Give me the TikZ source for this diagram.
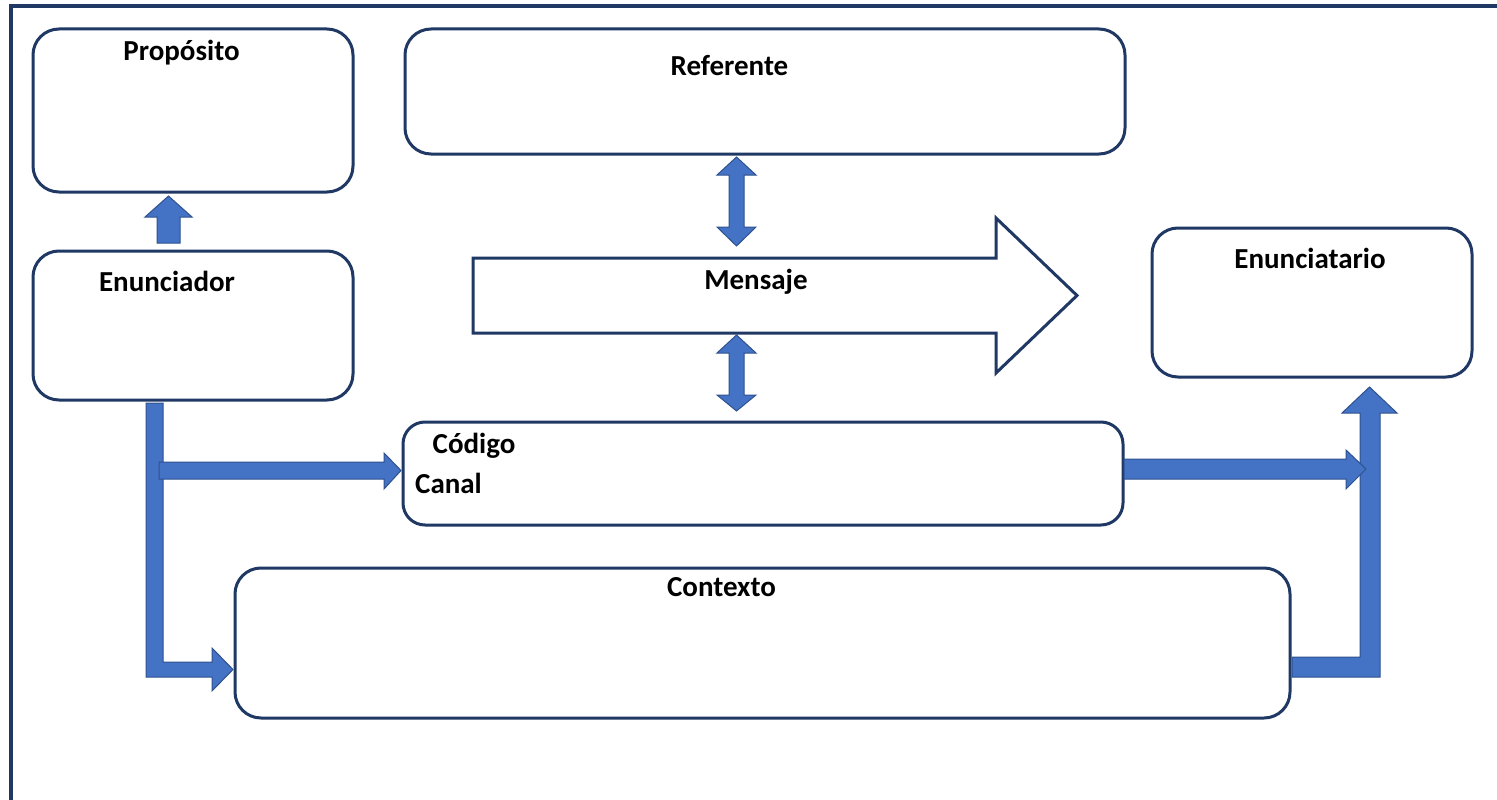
\documentclass[tikz,border=0pt]{standalone}
\usepackage{fontspec}
\setmainfont{Carlito}
\definecolor{navy}{HTML}{1F3864}
\definecolor{ablue}{HTML}{4472C4}
\definecolor{aedge}{HTML}{2F528F}
\begin{document}
\begin{tikzpicture}[x=1pt,y=-1pt,
  box/.style={draw=navy,line width=3pt,rounded corners=26pt,fill=white,inner sep=0pt},
  lbl/.style={font=\bfseries\fontsize{29}{33}\selectfont,inner sep=0pt,anchor=base},
  blk/.style={fill=ablue,draw=aedge,line width=1pt,line join=miter},
  bigarrow/.style={fill=white,draw=navy,line width=3pt,line join=miter}]
\useasboundingbox (0,0) rectangle (1497,800);
\fill[white] (0,0) rectangle (1497,800);
\draw[navy,line width=4pt] (11,802) -- (11,6) -- (1499,6);

% boxes
\node[box,minimum width=320pt,minimum height=163pt] (prop) at (193,110.5) {};
\node[box,minimum width=320pt,minimum height=149pt] (enun) at (193,325.5) {};
\node[box,minimum width=720pt,minimum height=125pt] (ref) at (765,91.5) {};
\node[box,minimum width=320pt,minimum height=149pt] (enta) at (1312,302.5) {};
\node[box,minimum width=720pt,minimum height=103pt,rounded corners=22pt] (cod) at (763,473.5) {};
\node[box,minimum width=1055pt,minimum height=150pt] (ctx) at (762.5,643) {};

% message arrow
\draw[bigarrow] (473,258) -- (996,258) -- (996,218) -- (1077,295.5) -- (996,373) -- (996,333) -- (473,333) -- cycle;

% block arrows
\draw[blk] (157,243) -- (157,217) -- (145,217) -- (168.5,196) -- (192,217) -- (180,217) -- (180,243) -- cycle;
\draw[blk] (729,175) -- (717,175) -- (736.5,157) -- (756,175) -- (744,175) -- (744,227) -- (756,227) -- (736.5,246) -- (717,227) -- (729,227) -- cycle;
\draw[blk] (729,353) -- (717,353) -- (736.5,335) -- (756,353) -- (744,353) -- (744,395) -- (756,395) -- (736.5,411) -- (717,395) -- (729,395) -- cycle;
\draw[blk] (146,403) -- (163,403) -- (163,662) -- (212,662) -- (212,648) -- (233,669.5) -- (212,691) -- (212,677) -- (146,677) -- cycle;
\draw[blk] (159,462) -- (384,462) -- (384,453) -- (401,470.5) -- (384,489) -- (384,479) -- (159,479) -- cycle;
\draw[blk] (1292,657) -- (1360,657) -- (1360,413) -- (1342,413) -- (1369.5,387) -- (1397,413) -- (1380,413) -- (1380,677) -- (1292,677) -- cycle;
\draw[blk] (1124,459) -- (1346,459) -- (1346,450) -- (1366,469) -- (1346,489) -- (1346,479) -- (1124,479) -- cycle;

% labels
\node[lbl] (tprop) at (181.5,60) {Propósito};
\node[lbl] (tenun) at (167,291) {Enunciador};
\node[lbl] (tref) at (729.5,75) {Referente};
\node[lbl] (tmsg) at (756,289) {Mensaje};
\node[lbl] (tenta) at (1310,268) {Enunciatario};
\node[lbl] (tcod) at (474,453) {Código};
\node[lbl] (tcan) at (448.5,493) {Canal};
\node[lbl] (tctx) at (721.5,596) {Contexto};
\end{tikzpicture}
\end{document}
